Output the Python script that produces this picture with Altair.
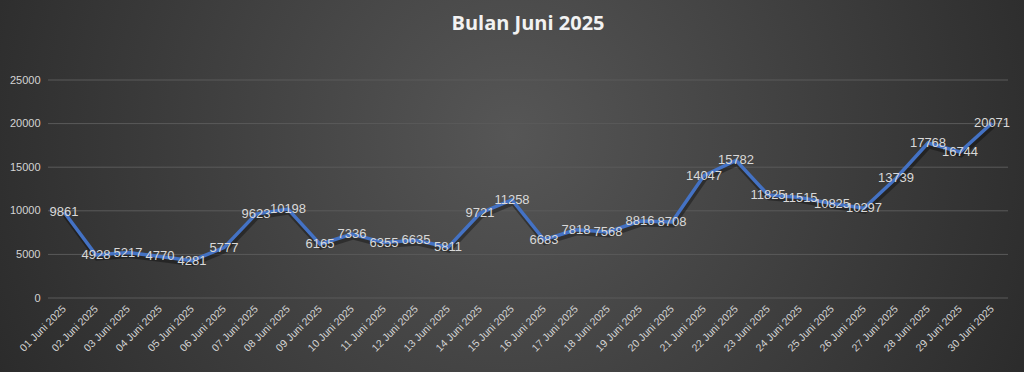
import altair as alt
import pandas as pd

days = [f"{d:02d} Juni 2025" for d in range(1, 31)]
values = [9861, 4928, 5217, 4770, 4281, 5777, 9623, 10198, 6165, 7336,
          6355, 6635, 5811, 9721, 11258, 6683, 7818, 7568, 8816, 8708,
          14047, 15782, 11825, 11515, 10825, 10297, 13739, 17768, 16744, 20071]
y_ticks = [0, 5000, 10000, 15000, 20000, 25000]
title_text = "Bulan Juni 2025"

df = pd.DataFrame({"tanggal": days, "nilai": values})
grid_df = pd.DataFrame({"nilai": y_ticks})

W, H = 960, 218
PAD = {"left": 48, "top": 80, "right": 16, "bottom": 74}

bg_grad = {
    "gradient": "radial",
    "x1": 0.5, "y1": 0.45, "r1": 0,
    "x2": 0.5, "y2": 0.45, "r2": 0.62,
    "stops": [
        {"offset": 0, "color": "#565656"},
        {"offset": 1, "color": "#262626"},
    ],
}

bg = alt.Chart(alt.Data(values=[{"a": 1}])).mark_rect(fill=bg_grad).encode(
    x=alt.value(-PAD["left"]),
    x2=alt.value(W + PAD["right"]),
    y=alt.value(-PAD["top"]),
    y2=alt.value(H + PAD["bottom"]),
)

x_enc = alt.X(
    "tanggal:N", sort=days, title=None,
    axis=alt.Axis(labelAngle=-45, labelAlign="right", labelBaseline="middle",
                  labelPadding=9, labelOverlap=False, labelFlush=False,
                  labelFont="Liberation Sans", labelFontSize=10.5,
                  labelColor="#d4d4d4", domain=False, ticks=False, grid=False,
                  zindex=1),
)
y_enc = alt.Y(
    "nilai:Q", title=None,
    scale=alt.Scale(domain=[0, 25000], nice=False),
    axis=alt.Axis(values=y_ticks, format="d", labelFont="Liberation Sans",
                  labelFontSize=11, labelColor="#d4d4d4", labelPadding=8,
                  domain=False, ticks=False, grid=False, zindex=1),
)

grid = alt.Chart(grid_df).mark_rule(color="#5a5a5a", strokeWidth=1).encode(
    y=alt.Y("nilai:Q"),
    x=alt.value(0),
    x2=alt.value(W),
)

base = alt.Chart(df)

shadow = base.mark_line(color="#000000", opacity=0.35, strokeWidth=5, yOffset=3, xOffset=1).encode(
    x=x_enc, y=y_enc
)
line = base.mark_line(color="#4472c4", strokeWidth=3.5).encode(x=x_enc, y=y_enc)
labels = base.mark_text(font="Liberation Sans", fontSize=13, color="#d9d9d9",
                        align="center", baseline="middle").encode(
    x=x_enc, y=y_enc, text=alt.Text("nilai:Q", format="d")
)

chart = alt.layer(bg, grid, shadow, line, labels).properties(
    width=W, height=H,
    padding=PAD,
    autosize=alt.AutoSizeParams(type="none"),
    background="#3a3a3a",
    title=alt.TitleParams(title_text, font="Open Sans", fontSize=20, fontWeight="bold",
                          color="#f2f2f2", anchor="middle", offset=0, dy=34),
).configure_view(stroke=None)

chart.save("out.html", embed_options={"renderer": "svg", "actions": False})
